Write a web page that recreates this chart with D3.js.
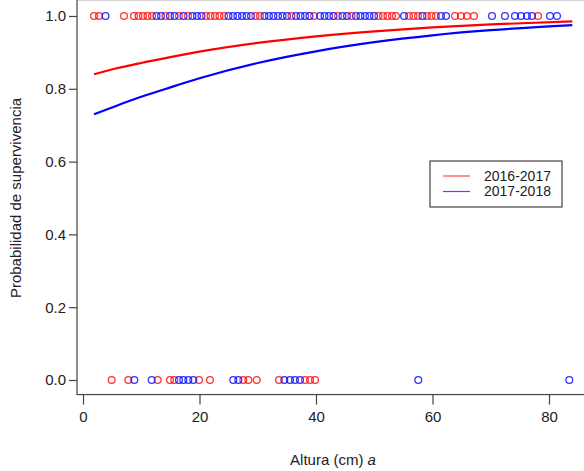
<!DOCTYPE html>
<html>
<head>
<meta charset="utf-8">
<script src="https://cdn.jsdelivr.net/npm/d3@7"></script>
<style>
    body { margin: 0; background: #fff; }
    text { font-family: "Liberation Sans", Arial, sans-serif; }
</style>
</head>
<body>
<div id="chart"></div>
<script>
//series names
var series = ['2016-2017', '2017-2018'];
var colors = ['#ff0000', '#0000ff'];
//alive (1) heights, 2016-2017
var alive2016 = [1.89, 2.75, 7.04, 8.76, 9.53, 10.30, 11.07, 11.85, 14.16, 16.48, 18.03, 21.12, 21.89,
    22.66, 23.43, 24.21, 29.61, 30.39, 35.79, 39.66, 43.78, 46.09, 50.73, 51.50, 52.27, 53.05, 53.73,
    55.96, 56.74, 57.51, 59.05, 59.83, 60.60, 63.86, 64.89, 65.92, 67.12, 78.11];
//alive (1) heights, 2017-2018
var alive2017 = [3.86, 12.62, 13.39, 14.94, 15.71, 17.25, 18.80, 19.57, 20.34, 24.98, 25.75, 26.52,
    27.30, 28.07, 28.84, 31.16, 31.93, 32.70, 33.48, 34.25, 35.02, 36.57, 37.34, 38.11, 38.88, 40.69,
    41.46, 42.23, 43.00, 44.55, 45.32, 46.87, 47.64, 48.41, 49.18, 49.96, 55.11, 58.28, 61.46, 62.32,
    70.21, 72.44, 74.16, 75.19, 76.22, 77.08, 80.17, 81.37];
//dead (0) heights
var dead2016 = [4.93, 7.78, 12.82, 14.94, 15.67, 19.91, 21.80, 27.52, 28.38, 29.82, 33.65, 38.11, 38.97, 39.83];
var dead2017 = [8.81, 11.79, 16.48, 17.22, 18.08, 18.94, 25.80, 26.66, 34.56, 35.54, 36.39, 37.25, 57.56, 83.48];
//fitted curves
var curveX = [1.9, 6, 10, 15, 20, 30, 40, 50, 60, 70, 84];
var curve2016 = [0.840, 0.857, 0.871, 0.887, 0.902, 0.926, 0.944, 0.958, 0.969, 0.977, 0.985];
var curve2017 = [0.730, 0.755, 0.778, 0.804, 0.829, 0.871, 0.903, 0.928, 0.947, 0.961, 0.975];
//tick labels
var xTicks = [0, 20, 40, 60, 80];
var yTicks = [0, 0.2, 0.4, 0.6, 0.8, 1.0];

var width = 584, height = 471;

var svg = d3.select('#chart')
    .append('svg')
    .attr('width', width)
    .attr('height', height);

var x = d3.scaleLinear().domain([0, 80]).range([83, 549]);
var y = d3.scaleLinear().domain([0, 1]).range([380, 16]);

//plot box (R style, 4% padding)
var box = { left: x(-1.03), right: x(86.6), top: y(1.045), bottom: y(-0.04) };
svg.append('rect')
    .attr('x', box.left)
    .attr('y', box.top)
    .attr('width', box.right - box.left)
    .attr('height', box.bottom - box.top)
    .style('fill', 'none')
    .style('stroke', '#444')
    .style('stroke-width', 1.2);

//x axis
var xAxis = svg.append('g')
    .attr('transform', 'translate(0,' + box.bottom + ')')
    .call(d3.axisBottom(x).tickValues(xTicks).tickSize(10).tickPadding(7));
xAxis.select('path').remove();
xAxis.selectAll('line').style('stroke', '#444').style('stroke-width', 1.2);
xAxis.selectAll('text').style('font-size', '15px').style('fill', '#222');

//y axis
var yAxis = svg.append('g')
    .attr('transform', 'translate(' + box.left + ',0)')
    .call(d3.axisLeft(y).tickValues(yTicks).tickFormat(d3.format('.1f')).tickSize(8).tickPadding(3));
yAxis.select('path').remove();
yAxis.selectAll('line').style('stroke', '#444').style('stroke-width', 1.2);
yAxis.selectAll('text').style('font-size', '15px').style('fill', '#222');

//axis titles
var xTitle = svg.append('text')
    .attr('x', (box.left + 583) / 2 + 3)
    .attr('y', 465)
    .attr('text-anchor', 'middle')
    .style('font-size', '15px')
    .style('fill', '#222');
xTitle.append('tspan').text('Altura (cm) ');
xTitle.append('tspan').style('font-style', 'italic').text('a');

svg.append('text')
    .attr('transform', 'translate(21,' + (y(0.5)) + ') rotate(-90)')
    .attr('text-anchor', 'middle')
    .style('font-size', '15px')
    .style('fill', '#222')
    .text('Probabilidad de supervivencia');

//points
function addPoints(values, state, color) {
    svg.append('g')
        .selectAll('circle')
        .data(values)
        .enter()
        .append('circle')
        .attr('cx', function (d) { return x(d); })
        .attr('cy', y(state))
        .attr('r', 3.4)
        .style('fill', 'none')
        .style('stroke', color)
        .style('stroke-opacity', 0.8)
        .style('stroke-width', 1.3);
}
addPoints(alive2016, 1, colors[0]);
addPoints(alive2017, 1, colors[1]);
addPoints(dead2016, 0, colors[0]);
addPoints(dead2017, 0, colors[1]);

//fitted curves
var line = d3.line()
    .x(function (d) { return x(d[0]); })
    .y(function (d) { return y(d[1]); })
    .curve(d3.curveMonotoneX);
[curve2016, curve2017].forEach(function (vals, i) {
    svg.append('path')
        .datum(curveX.map(function (v, j) { return [v, vals[j]]; }))
        .attr('d', line)
        .style('fill', 'none')
        .style('stroke', colors[i])
        .style('stroke-width', 2.2);
});

//legend
var lg = svg.append('g').attr('transform', 'translate(430,161)');
lg.append('rect')
    .attr('width', 132)
    .attr('height', 46)
    .style('fill', '#fff')
    .style('stroke', '#444')
    .style('stroke-width', 1.2);
series.forEach(function (s, i) {
    lg.append('line')
        .attr('x1', 13).attr('x2', 40)
        .attr('y1', 15 + i * 15.5).attr('y2', 15 + i * 15.5)
        .style('stroke', colors[i])
        .style('stroke-opacity', 0.7)
        .style('stroke-width', 1.2);
    lg.append('text')
        .attr('x', 54)
        .attr('y', 15 + i * 15.5)
        .attr('dy', '0.35em')
        .style('font-size', '14px')
        .style('fill', '#222')
        .text(s);
});
</script>
</body>
</html>
